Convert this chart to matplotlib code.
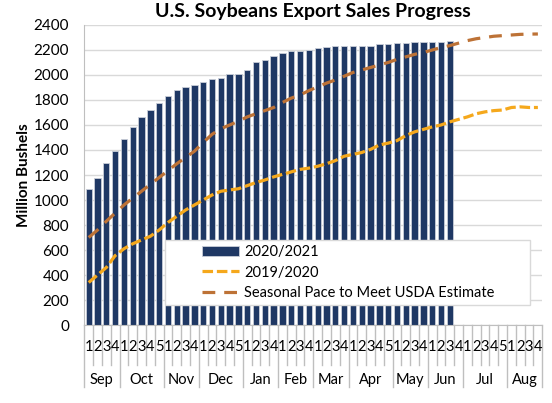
import matplotlib
matplotlib.use('Agg')
import matplotlib.pyplot as plt
from matplotlib.patches import Rectangle
from matplotlib.transforms import blended_transform_factory

plt.rcParams['font.family'] = ['Lato', 'DejaVu Sans']

months = ['Sep', 'Oct', 'Nov', 'Dec', 'Jan', 'Feb', 'Mar', 'Apr', 'May', 'Jun', 'Jul', 'Aug']
weeks_in_month = [4, 5, 4, 5, 4, 4, 4, 5, 4, 4, 5, 4]

sales_2021 = [1090, 1180, 1300, 1395, 1485, 1585, 1667, 1723, 1779, 1829,
              1878, 1907, 1920, 1941, 1971, 1979, 2005, 2005, 2037, 2104,
              2123, 2149, 2173, 2192, 2194, 2203, 2216, 2227, 2232, 2232,
              2230, 2232, 2235, 2245, 2251, 2256, 2259, 2261, 2261, 2261,
              2264, 2269]

sales_2020 = [340, 400, 460, 555, 610, 650, 680, 710, 760, 820,
              870, 920, 960, 1000, 1040, 1070, 1080, 1090, 1115, 1140,
              1160, 1185, 1205, 1225, 1245, 1255, 1270, 1290, 1315, 1350,
              1365, 1380, 1405, 1440, 1455, 1475, 1515, 1545, 1565, 1585,
              1600, 1625, 1645, 1665, 1690, 1705, 1715, 1720, 1740, 1745,
              1740, 1740]

usda_pace = [700, 760, 830, 895, 960, 1015, 1070, 1125, 1180, 1235,
             1290, 1340, 1390, 1460, 1525, 1570, 1600, 1630, 1665, 1690,
             1715, 1740, 1780, 1815, 1840, 1875, 1905, 1935, 1960, 1990,
             2020, 2040, 2060, 2080, 2100, 2125, 2145, 2165, 2180, 2200,
             2220, 2235, 2255, 2275, 2290, 2300, 2310, 2315, 2320, 2325,
             2327, 2328]

week_labels = []
for n in weeks_in_month:
    week_labels += [str(i + 1) for i in range(n)]
nweeks = len(week_labels)

fig = plt.figure(figsize=(5.52, 4.03), dpi=100)
ax = fig.add_axes([0.1527, 0.1935, 0.8297, 0.7445])

bars = ax.bar(range(len(sales_2021)), sales_2021, width=0.72, color='#1F3864',
              edgecolor='#C9CED8', linewidth=0.6, label='2020/2021', zorder=2)
l1, = ax.plot(range(nweeks), sales_2020, color='#F5A81C', lw=2.3,
              dashes=(3.3, 1.2), label='2019/2020', zorder=3)
l2, = ax.plot(range(nweeks), usda_pace, color='#BD7236', lw=2.3,
              dashes=(4.0, 2.8), label='Seasonal Pace to Meet USDA Estimate', zorder=3)

ax.set_xlim(-0.5, nweeks - 0.5)
ax.set_ylim(0, 2400)
ax.set_yticks(range(0, 2401, 200))
ax.grid(axis='y', color='#D9D9D9', lw=1, zorder=0)
ax.set_axisbelow(True)
for s in ['top', 'right']:
    ax.spines[s].set_visible(False)
ax.spines['left'].set_color('#BFBFBF')
ax.spines['bottom'].set_color('#BFBFBF')
ax.tick_params(axis='y', length=0, pad=11, labelsize=11)
ax.tick_params(axis='x', length=0, pad=0)
ax.set_xticks(range(nweeks))
ax.set_xticklabels([])

trans = blended_transform_factory(ax.transData, ax.transAxes)
for i, lab in enumerate(week_labels):
    ax.text(i, -0.073, lab, transform=trans, ha='center', va='center', fontsize=10.5)
# separators under the axis
pos = 0
starts = []
for n in weeks_in_month:
    starts.append(pos)
    pos += n
for i in range(nweeks + 1):
    ybot = -0.207 if (i in starts or i == nweeks) else -0.133
    ax.plot([i - 0.5, i - 0.5], [0, ybot], transform=trans, color='#BFBFBF',
            lw=1, clip_on=False)
for m, s, n in zip(months, starts, weeks_in_month):
    ax.text(s + (n - 1) / 2, -0.183, m, transform=trans, ha='center', va='center',
            fontsize=10.5)

ax.set_title('U.S. Soybeans Export Sales Progress', fontsize=14, fontweight='bold', pad=6)
ax.set_ylabel('Million Bushels', fontsize=11, fontweight='bold', labelpad=2)

# legend box drawn separately, entries sit inset from its left edge
ax.add_patch(Rectangle((0.176, 0.067), 0.797, 0.216, transform=ax.transAxes,
                       facecolor='white', edgecolor='#D9D9D9', lw=1, zorder=4))
leg = ax.legend([bars, l1, l2], ['2020/2021', '2019/2020', 'Seasonal Pace to Meet USDA Estimate'],
                loc='center left', bbox_to_anchor=(0.258, 0.175),
                fontsize=10.5, frameon=False,
                handlelength=2.5, labelspacing=0.45, handletextpad=0.35,
                borderpad=0, borderaxespad=0)
leg.set_zorder(5)

fig.savefig('out.png', dpi=100)
